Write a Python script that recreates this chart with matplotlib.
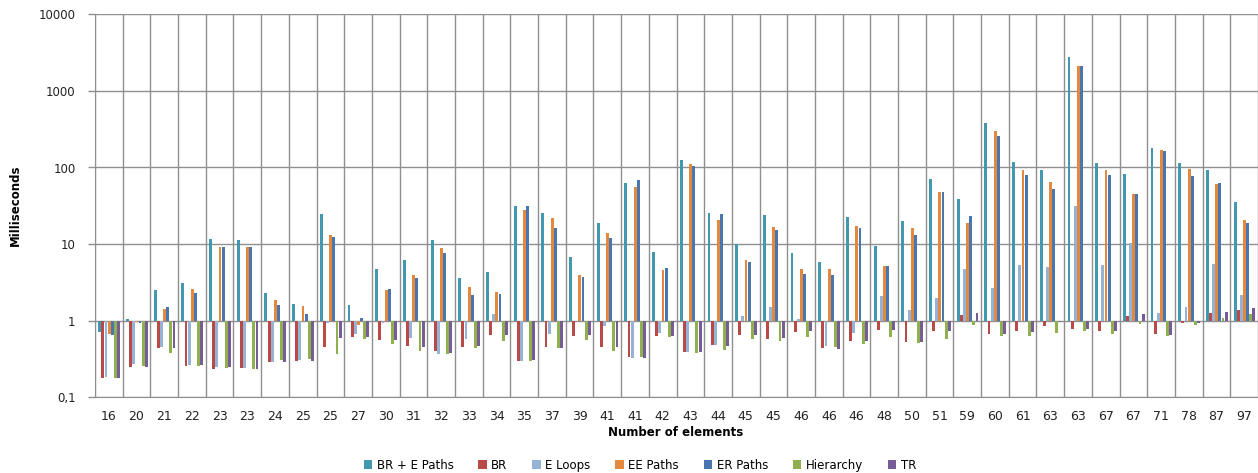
import numpy as np
import matplotlib
matplotlib.use("Agg")
import matplotlib.pyplot as plt
from matplotlib.patches import Patch

categories = ["16", "20", "21", "22", "23", "23", "24", "25", "25", "27", "30", "31", "32", "33",
              "34", "35", "37", "39", "41", "41", "42", "43", "44", "45", "45", "46", "46", "46",
              "48", "50", "51", "59", "60", "61", "63", "63", "67", "67", "71", "78", "87", "97"]

br_e_paths = [0.72, 1.04, 2.5, 3.1, 11.5, 11.4, 2.27, 1.65, 24.4, 1.6, 4.7, 6.2, 11.2, 3.6,
              4.3, 31.7, 25.7, 6.8, 18.8, 62.7, 8.0, 125, 25.5, 10.1, 24.2, 7.6, 5.8, 22.3,
              9.4, 19.8, 70.7, 38.4, 385, 117, 91.8, 2797, 114, 81.3, 181, 113, 93.6, 35.4]
br = [0.18, 0.25, 0.435, 0.256, 0.234, 0.238, 0.29, 0.30, 0.46, 0.62, 0.565, 0.47, 0.40, 0.46,
      0.65, 0.30, 0.46, 0.64, 0.46, 0.34, 0.63, 0.39, 0.476, 0.65, 0.58, 0.71, 0.435, 0.55,
      0.76, 0.53, 0.73, 1.17, 0.68, 0.74, 0.85, 0.79, 0.74, 1.15, 0.68, 0.94, 1.27, 1.38]
e_loops = [0.185, 0.27, 0.46, 0.264, 0.25, 0.243, 0.29, 0.31, 0.94, 0.68, 0.94, 0.59, 0.367, 0.57,
           1.22, 0.30, 0.67, 0.98, 0.85, 0.33, 0.70, 0.39, 0.476, 1.15, 1.52, 1.05, 0.47, 0.70,
           2.1, 1.36, 1.98, 4.7, 2.67, 5.3, 5.07, 31.1, 5.3, 10.3, 1.27, 1.49, 5.5, 2.14]
ee_paths = [0.68, 0.96, 1.41, 2.6, 9.3, 9.2, 1.86, 1.57, 13.0, 0.88, 2.49, 3.95, 8.9, 2.75,
            2.34, 27.9, 22.1, 4.0, 14.1, 55.6, 4.6, 111, 20.6, 6.2, 16.5, 4.7, 4.68, 17.0,
            5.2, 16.0, 48.3, 19.0, 299, 92.7, 64, 2112, 91.8, 45.1, 169, 95.5, 60.8, 20.8]
er_paths = [0.65, 0.92, 1.51, 2.32, 9.2, 9.2, 1.58, 1.21, 12.4, 1.09, 2.6, 3.6, 7.6, 2.16,
            2.25, 31.7, 16.2, 3.7, 11.9, 67.9, 4.87, 105, 24.5, 5.8, 15.4, 4.07, 4.0, 16.0,
            5.2, 13.3, 47.4, 23.0, 257, 78.9, 51.8, 2112, 78.9, 45.1, 164, 78.2, 63.4, 18.8]
hierarchy = [0.18, 0.26, 0.375, 0.256, 0.24, 0.236, 0.31, 0.315, 0.37, 0.57, 0.49, 0.40, 0.364, 0.44,
             0.54, 0.30, 0.435, 0.565, 0.40, 0.336, 0.61, 0.38, 0.42, 0.58, 0.55, 0.62, 0.45, 0.50,
             0.62, 0.506, 0.57, 0.89, 0.63, 0.64, 0.70, 0.74, 0.68, 0.905, 0.63, 0.88, 1.07, 1.23]
tr = [0.177, 0.25, 0.44, 0.264, 0.25, 0.232, 0.29, 0.30, 0.60, 0.61, 0.565, 0.45, 0.38, 0.47,
      0.66, 0.306, 0.44, 0.66, 0.45, 0.33, 0.63, 0.39, 0.47, 0.66, 0.59, 0.73, 0.43, 0.54,
      0.76, 0.52, 0.73, 1.27, 0.68, 0.72, 0.95, 0.79, 0.74, 1.22, 0.65, 0.92, 1.28, 1.45]

series_names = ["BR + E Paths", "BR", "E Loops", "EE Paths", "ER Paths", "Hierarchy", "TR"]
series_values = [br_e_paths, br, e_loops, ee_paths, er_paths, hierarchy, tr]
colors = ["#4198AF", "#B94A48", "#95B3D7", "#E3893F", "#4A76B0", "#8FB04F", "#775C98"]

y_ticks = [0.1, 1, 10, 100, 1000, 10000]
y_tick_labels = ["0,1", "1", "10", "100", "1000", "10000"]

fig = plt.figure(figsize=(12.58, 4.73), dpi=100)
ax = fig.add_axes([95 / 1258, 1 - 397.3 / 473, 1 - 95 / 1258, (397.3 - 14.3) / 473])

n = len(categories)
x = np.arange(n)
bw = 0.113
for i, (vals, c) in enumerate(zip(series_values, colors)):
    v = np.array(vals, dtype=float)
    offs = (i - 3) * bw
    ax.bar(x + offs + 0.012, v - 1, bottom=1, width=bw * 0.92, color=c, zorder=3,
           linewidth=0)

ax.set_yscale("log")
ax.set_ylim(0.1, 10000)
ax.set_xlim(-0.5, n - 0.5)
ax.set_yticks(y_ticks)
ax.set_yticklabels(y_tick_labels)
ax.yaxis.set_minor_locator(matplotlib.ticker.NullLocator())
ax.set_xticks(x)
ax.set_xticklabels(categories)
ax.tick_params(axis="x", length=0, pad=9, labelsize=9, colors="#222222")
ax.tick_params(axis="y", length=5, width=1, pad=9, labelsize=8.5, color="#8f8f8f",
               labelcolor="#222222")

for yy in y_ticks:
    ax.axhline(yy, color="#8f8f8f", lw=1.0, zorder=1)
for xx in np.arange(-0.5, n, 1.0):
    ax.axvline(xx, color="#8f8f8f", lw=1.0, zorder=1)

for s in ["top", "right"]:
    ax.spines[s].set_visible(False)
ax.spines["left"].set_color("#8f8f8f")
ax.spines["bottom"].set_color("#8f8f8f")

fig.text(15 / 1258, 1 - 205 / 473, "Milliseconds", rotation=90, ha="center", va="center",
         fontsize=8.5, fontweight="bold")
fig.text(676 / 1258, 1 - 432 / 473, "Number of elements", ha="center", va="center",
         fontsize=8.5, fontweight="bold")

handles = [Patch(facecolor=c, edgecolor="none") for c in colors]
fig.legend(handles, series_names, loc="center", bbox_to_anchor=(640 / 1258, 1 - 465 / 473),
           ncol=7, frameon=False, fontsize=8.5, handlelength=0.7, handleheight=0.7,
           columnspacing=2.1, handletextpad=0.4)

fig.savefig("out.png", dpi=100)
